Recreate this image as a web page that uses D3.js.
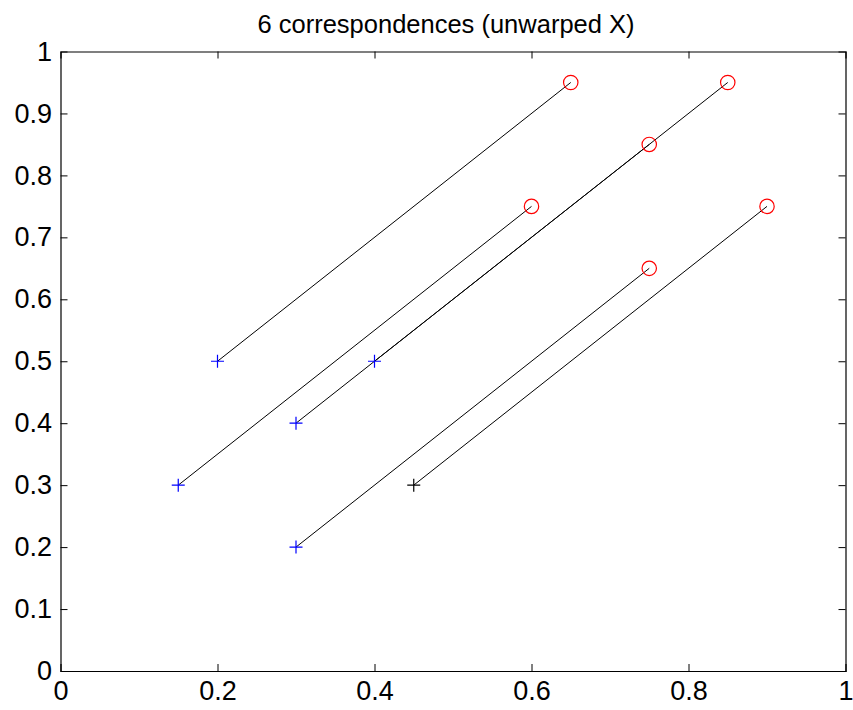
<!DOCTYPE html>
<html>
<head>
<meta charset="utf-8">
<script src="https://cdn.jsdelivr.net/npm/d3@7/dist/d3.min.js"></script>
<style>
  html, body { margin: 0; padding: 0; background: #fff; }
  svg { display: block; }
  text { font-family: "Liberation Sans", Arial, sans-serif; fill: #000; }
</style>
</head>
<body>
<script>
// Source points (plus markers) and their warped targets (circle markers)
const srcX = [0.20, 0.15, 0.30, 0.40, 0.30, 0.45];
const srcY = [0.50, 0.30, 0.40, 0.50, 0.20, 0.30];
const dstX = [0.65, 0.60, 0.75, 0.85, 0.75, 0.90];
const dstY = [0.95, 0.75, 0.85, 0.95, 0.65, 0.75];
const srcColor = ["#0000ff", "#0000ff", "#0000ff", "#0000ff", "#0000ff", "#000000"];
const xTicks = [0, 0.2, 0.4, 0.6, 0.8, 1];
const yTicks = [0, 0.1, 0.2, 0.3, 0.4, 0.5, 0.6, 0.7, 0.8, 0.9, 1];
const title = "6 correspondences (unwarped X)";

const W = 853, H = 710;
const m = { left: 60.5, top: 51.5, right: 853 - 845.5, bottom: 710 - 671 };

const svg = d3.select("body").append("svg").attr("width", W).attr("height", H);

const x = d3.scaleLinear().domain([0, 1]).range([m.left, W - m.right]);
const y = d3.scaleLinear().domain([0, 1]).range([H - m.bottom, m.top]);

const tickLen = 7;
const fs = 27;

// Axes: ticks point inward, mirrored on top/right
const gx = svg.append("g").attr("transform", `translate(0,${y(0)})`)
  .call(d3.axisBottom(x).tickValues(xTicks).tickSize(-tickLen).tickPadding(10)
        .tickFormat(d3.format("")));
const gxt = svg.append("g").attr("transform", `translate(0,${y(1)})`)
  .call(d3.axisTop(x).tickValues(xTicks).tickSize(-tickLen).tickFormat(""));
const gy = svg.append("g").attr("transform", `translate(${x(0)},0)`)
  .call(d3.axisLeft(y).tickValues(yTicks).tickSize(-tickLen).tickPadding(8.5)
        .tickFormat(d3.format("")));
const gyr = svg.append("g").attr("transform", `translate(${x(1)},0)`)
  .call(d3.axisRight(y).tickValues(yTicks).tickSize(-tickLen).tickFormat(""));

[gx, gxt, gy, gyr].forEach(g => {
  g.select(".domain").attr("stroke", "#000").attr("stroke-width", 1.2);
  g.selectAll(".tick line").attr("stroke", "#000").attr("stroke-width", 1);
  g.selectAll(".tick text").style("font-size", fs + "px")
    .style("font-family", '"Liberation Sans", Arial, sans-serif').attr("fill", "#000");
});
// Hide the end ticks that coincide with the box corners
[gx, gxt, gy, gyr].forEach(g => g.selectAll(".tick line").filter(d => d === 0 || d === 1).remove());

const idx = d3.range(srcX.length);

// Correspondence lines
svg.append("g").selectAll("line").data(idx).join("line")
  .attr("x1", i => x(srcX[i])).attr("y1", i => y(srcY[i]))
  .attr("x2", i => x(dstX[i])).attr("y2", i => y(dstY[i]))
  .attr("stroke", "#000").attr("stroke-width", 1);

// Plus markers at the source points
const ps = 6.5;
svg.append("g").selectAll("path").data(idx).join("path")
  .attr("d", i => {
    const cx = x(srcX[i]), cy = y(srcY[i]);
    return `M${cx - ps},${cy}H${cx + ps}M${cx},${cy - ps}V${cy + ps}`;
  })
  .attr("stroke", i => srcColor[i]).attr("stroke-width", 1.2).attr("fill", "none");

// Circle markers at the target points
svg.append("g").selectAll("circle").data(idx).join("circle")
  .attr("cx", i => x(dstX[i])).attr("cy", i => y(dstY[i])).attr("r", 7.2)
  .attr("fill", "none").attr("stroke", "#ff0000").attr("stroke-width", 1.2);

// Title
svg.append("text").attr("x", (x(0) + x(1)) / 2 - 7).attr("y", 33)
  .attr("text-anchor", "middle").style("font-size", "25.5px").text(title);
</script>
</body>
</html>
